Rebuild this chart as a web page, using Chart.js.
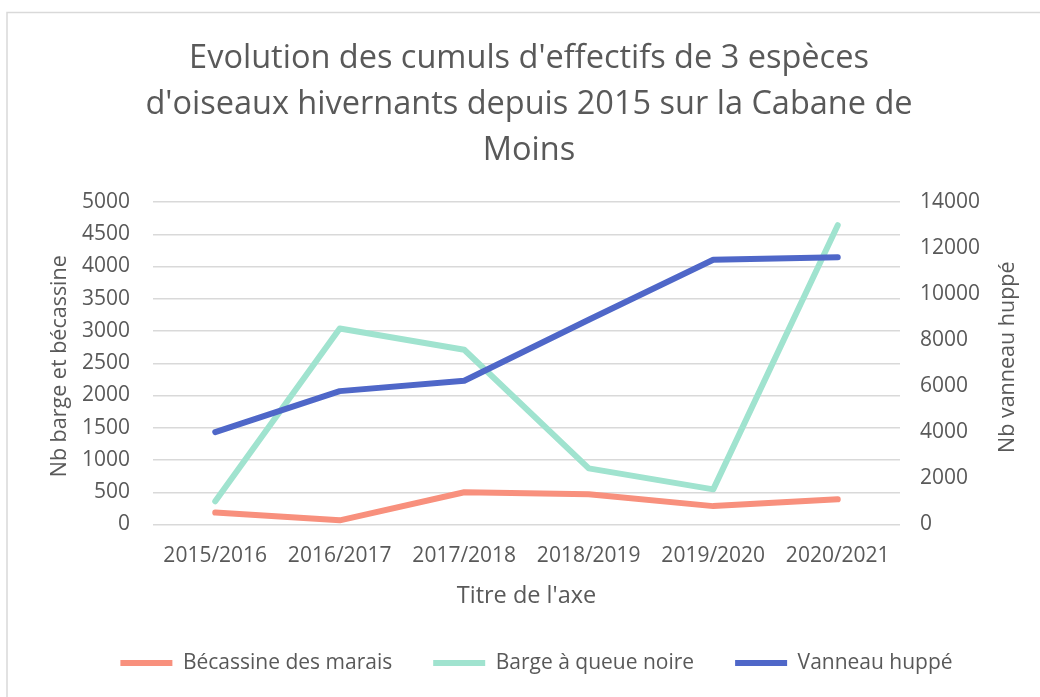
<!DOCTYPE html>
<html><head><meta charset="utf-8">
<script src="https://cdn.jsdelivr.net/npm/chart.js@4"></script>
<style>html,body{margin:0;padding:0;background:#fff}#wrap{width:1040px;height:697px;position:relative}</style>
</head><body><div id="wrap"><canvas id="c"></canvas></div>
<script>
const categories = ['2015/2016', '2016/2017', '2017/2018', '2018/2019', '2019/2020', '2020/2021'];
const becassine = [185, 65, 500, 470, 285, 390];
const barge = [360, 3040, 2710, 870, 545, 4640];
const vanneau = [4010, 5790, 6240, 8890, 11490, 11600];
const seriesNames = ['Bécassine des marais', 'Barge à queue noire', 'Vanneau huppé'];
const titleLines = ["Evolution des cumuls d'effectifs de 3 espèces", "d'oiseaux hivernants depuis 2015 sur la Cabane de", "Moins"];
const leftTitle = 'Nb barge et bécassine';
const rightTitle = 'Nb vanneau huppé';
const xTitle = "Titre de l'axe";

const FONT = "'Open Sans', 'Noto Sans', sans-serif";
const TXT = '#595959';

const framePlugin = {
  id: 'frame',
  beforeDraw(chart) {
    const ctx = chart.ctx;
    ctx.save();
    ctx.strokeStyle = '#d9d9d9';
    ctx.lineWidth = 1.5;
    ctx.strokeRect(7, 12.5, 1060, 720);
    ctx.restore();
  }
};
const shiftPlugin = {
  id: 'shiftBoxes',
  afterLayout(chart) {
    const t = chart.titleBlock;
    if (t) { t.left += 9; t.right += 9; }
    const l = chart.legend;
    if (l) { l.left += 16.5; l.right += 16.5; }
  }
};
const axisTitlePlugin = {
  id: 'axisTitles',
  afterDraw(chart) {
    const ctx = chart.ctx;
    const a = chart.chartArea;
    const mid = (a.top + a.bottom) / 2;
    ctx.save();
    ctx.font = '21.5px ' + FONT;
    ctx.fillStyle = TXT;
    ctx.textAlign = 'center';
    ctx.textBaseline = 'middle';
    ctx.translate(60, mid + 3);
    ctx.rotate(-Math.PI / 2);
    ctx.fillText(leftTitle, 0, 0);
    ctx.restore();
    ctx.save();
    ctx.font = '21.5px ' + FONT;
    ctx.fillStyle = TXT;
    ctx.textAlign = 'center';
    ctx.textBaseline = 'middle';
    ctx.translate(1008, mid - 6);
    ctx.rotate(-Math.PI / 2);
    ctx.fillText(rightTitle, 0, 0);
    ctx.restore();
  }
};

const common = { borderWidth: 6, pointRadius: 0, pointHoverRadius: 0, tension: 0, borderCapStyle: 'round', borderJoinStyle: 'round', fill: false };

new Chart(document.getElementById('c'), {
  type: 'line',
  data: {
    labels: categories,
    datasets: [
      Object.assign({ label: seriesNames[0], data: becassine, borderColor: '#F8907D', backgroundColor: '#F8907D', yAxisID: 'y', order: 3 }, common),
      Object.assign({ label: seriesNames[1], data: barge, borderColor: '#A0E3CF', backgroundColor: '#A0E3CF', yAxisID: 'y', order: 2 }, common),
      Object.assign({ label: seriesNames[2], data: vanneau, borderColor: '#4F67C8', backgroundColor: '#4F67C8', yAxisID: 'y1', order: 1 }, common)
    ]
  },
  options: {
    responsive: true,
    maintainAspectRatio: false,
    animation: false,
    layout: { padding: { top: 36, bottom: 13.5, left: 0, right: 0 } },
    plugins: {
      title: {
        display: true,
        text: titleLines,
        color: TXT,
        font: { family: FONT, size: 32.5, weight: 'normal', lineHeight: '46px' },
        padding: { top: 0, bottom: 28 }
      },
      legend: {
        position: 'bottom',
        labels: {
          usePointStyle: true,
          pointStyle: 'line',
          pointStyleWidth: 52,
          boxWidth: 52,
          boxHeight: 18,
          padding: 41,
          color: TXT,
          font: { family: FONT, size: 21 },
          sort: (a, b) => a.datasetIndex - b.datasetIndex
        }
      },
      tooltip: { enabled: false }
    },
    scales: {
      x: {
        offset: true,
        grid: { display: false, drawTicks: false },
        border: { display: false },
        ticks: { color: TXT, font: { family: FONT, size: 21 }, padding: 18.5, maxRotation: 0 },
        title: { display: true, text: xTitle, color: TXT, font: { family: FONT, size: 23.5 }, padding: { top: 0, bottom: 1.5 } },
        afterFit(s) { s.height = 87; }
      },
      y: {
        position: 'left',
        min: 0, max: 5000,
        ticks: { stepSize: 500, color: TXT, font: { family: FONT, size: 21 }, padding: 23, callback: v => String(v) },
        grid: { color: '#d9d9d9', lineWidth: 1.5, drawTicks: false },
        border: { display: false },
        afterFit(s) { s.width = 153; }
      },
      y1: {
        position: 'right',
        min: 0, max: 14000,
        ticks: { stepSize: 2000, color: TXT, font: { family: FONT, size: 21 }, padding: 20, callback: v => String(v) },
        grid: { display: false, drawTicks: false },
        border: { display: false },
        afterFit(s) { s.width = 140; }
      }
    }
  },
  plugins: [framePlugin, shiftPlugin, axisTitlePlugin]
});
</script>
</body></html>
